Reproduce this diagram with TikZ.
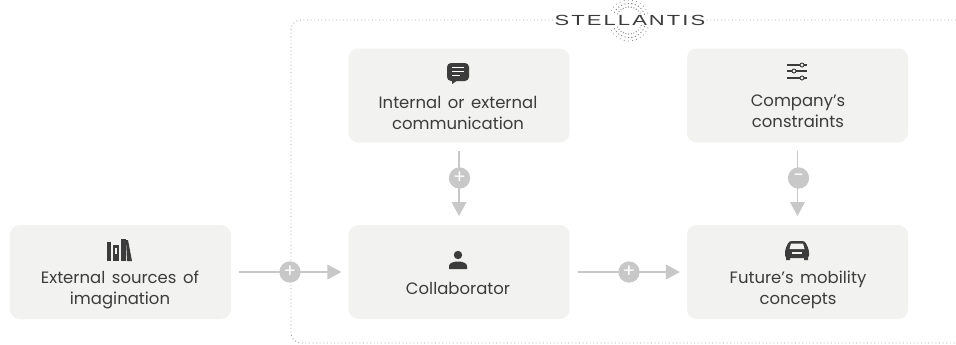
\documentclass[tikz,border=0pt]{standalone}
\usepackage{fontspec}
\setmainfont[WordSpace=1.5]{Poppins}
\newfontfamily\logofont[LetterSpace=14,FakeStretch=1.5]{Liberation Sans}
\usetikzlibrary{arrows.meta}
\definecolor{boxfill}{HTML}{F2F2F0}
\definecolor{ink}{HTML}{3C3C3C}
\definecolor{conn}{HTML}{C8C8C8}
\definecolor{frame}{HTML}{A8A8A8}
\tikzset{
  cardbox/.style={fill=boxfill,rounded corners=7.5pt,minimum width=166pt,minimum height=70.5pt,inner sep=0pt,text=ink},
  cardtext/.style={align=center,text=ink,font=\fontsize{12.35pt}{15.8pt}\selectfont,inner sep=0pt},
  link/.style={draw=conn,line width=1pt,-{Triangle[length=10.5pt,width=11pt,color=conn]}},
  opmark/.style={circle,fill=conn,minimum size=16pt,inner sep=0pt,text=white,font=\fontsize{14pt}{14pt}\selectfont},
  icon/.style={fill=ink,draw=none},
  iconline/.style={draw=ink,line width=0.9pt},
}
\begin{document}
\begin{tikzpicture}[x=0.75pt,y=-0.75pt]
\useasboundingbox (0,0) rectangle (956,344);
% frame
\draw[frame,line width=0.7pt,dotted,rounded corners=7.5pt] (956,20) -- (291,20) -- (291,343) -- (956,343);
% logo
\node[fill=white,inner sep=0pt,minimum width=115pt,minimum height=14pt] at (629.5,20) {};
\foreach \a in {20,32,...,160}{
  \foreach \r/\s in {13/0.6,16.5/0.65,20/0.5}{
    \fill[ink!70] (629+\r*cos \a,20-\r*sin \a) circle[radius=\s];
    \fill[ink!70] (629+\r*cos \a,21+\r*sin \a) circle[radius=\s];
  }
}
\node (logo) at (630,20.5) [text=ink,inner sep=0pt,font=\logofont\fontsize{11pt}{11pt}\selectfont] {STELLANTIS};
% cards
\node[cardbox] (ext) at (120.5,272) {};
\node[cardbox] (comm) at (459,95.5) {};
\node[cardbox] (cons) at (797.5,95.5) {};
\node[cardbox] (coll) at (459,272) {};
\node[cardbox] (fut) at (797.5,272) {};
\node[cardtext] (extT) at (120,290) {External sources of\\imagination};
\node[cardtext] (commT) at (458,113) {Internal or external\\communication};
\node[cardtext] (consT) at (798,111) {Company’s\\constraints};
\node[cardtext] (collT) at (458,288.5) {Collaborator};
\node[cardtext] (futT) at (798,290) {Future’s mobility\\concepts};
% connectors
\draw[link,shorten <=6pt,shorten >=5pt] (ext) -- (coll);
\draw[link,shorten <=6pt,shorten >=5pt] (coll) -- (fut);
\draw[link,shorten <=6.5pt,shorten >=6.5pt] (comm) -- (coll);
\draw[link,shorten <=6.5pt,shorten >=6.5pt] (cons) -- (fut);
\node[opmark] (p1) at (290,272) {+};
\node[opmark] (p2) at (629,272) {+};
\node[opmark] (p3) at (459.5,178) {+};
\node[opmark] (p4) at (798.5,178) {−};
% chat icon
\fill[icon,rounded corners=3pt] (447,63) rectangle (469,81);
\fill[icon] (452,80) -- (452,84) -- (458,80) -- cycle;
\draw[white,line width=0.8pt] (452,67.5) -- (464,67.5) (452,71.5) -- (464,71.5) (452,75.5) -- (460,75.5);
% sliders icon
\draw[iconline] (787,65) -- (807,65) (787,71) -- (807,71) (787,78) -- (807,78);
\foreach \x/\y in {802/65,794/71,802/78}{\draw[ink,fill=boxfill,line width=0.7pt] (\x,\y) circle[radius=2];}
% person icon
\fill[icon] (458,255) circle[radius=4.2];
\fill[icon] (449,269) -- (449,266) .. controls (449,260) and (467,260) .. (467,266) -- (467,269) -- cycle;
% books icon
\fill[icon] (107,242) rectangle (111,261);
\fill[icon] (113,245) rectangle (119,261);
\fill[boxfill] (115,248) rectangle (117,254);
\fill[icon] (121,239) rectangle (126,261);
\fill[icon] (126,240) -- (128,240) -- (132,261) -- (127,261) -- cycle;
% car icon
\fill[icon,rounded corners=2pt] (785,258) -- (785,250) -- (789,241) -- (805,241) -- (809,250) -- (809,258) -- cycle;
\fill[icon] (786,256) rectangle (790,260) (804,256) rectangle (808,260);
\fill[boxfill] (789.5,249) -- (791,243.5) -- (803,243.5) -- (804.5,249) -- cycle;
\fill[boxfill] (792,252) rectangle (802,254);
\end{tikzpicture}
\end{document}
